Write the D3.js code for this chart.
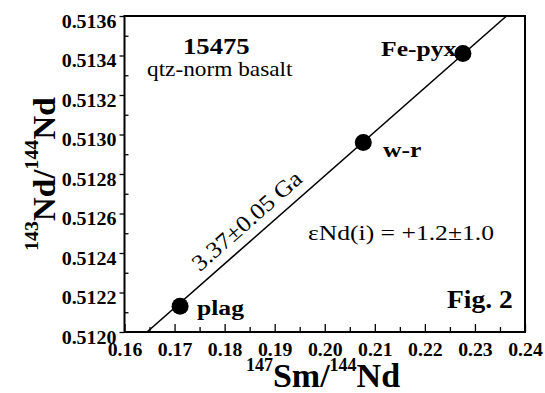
<!DOCTYPE html>
<html>
<head>
<meta charset="utf-8">
<script src="https://cdn.jsdelivr.net/npm/d3@7"></script>
<style>
  body { margin: 0; background: #fff; }
  text { font-family: "Liberation Serif", "Times New Roman", serif; fill: #000; }
</style>
</head>
<body>
<svg id="chart" width="545" height="393"></svg>
<script>
// Data
var minerals = ["plag", "w-r", "Fe-pyx"];
var smNd = [0.1711, 0.2077, 0.2276];
var ndNd = [0.51213, 0.51296, 0.51341];
// isochron end points (where it meets the frame)
var isoX = [0.1645, 0.2363];
var isoY = [0.5120, 0.5136];
var xTicks = [0.16, 0.17, 0.18, 0.19, 0.20, 0.21, 0.22, 0.23, 0.24];
var yTicks = [0.5120, 0.5122, 0.5124, 0.5126, 0.5128, 0.5130, 0.5132, 0.5134, 0.5136];

var svg = d3.select("#chart");

var pLeft = 124.5, pRight = 525, pTop = 16, pBottom = 332;

var x = d3.scaleLinear().domain([0.16, 0.24]).range([pLeft, pRight]);
var y = d3.scaleLinear().domain([0.5120, 0.5136]).range([pBottom, pTop]);

// minor ticks half way between majors
var xMinor = d3.pairs(xTicks).map(p => (p[0] + p[1]) / 2);
var yMinor = d3.pairs(yTicks).map(p => (p[0] + p[1]) / 2);

// x axis (ticks point inward)
svg.append("g")
  .attr("transform", `translate(0,${pBottom})`)
  .call(d3.axisBottom(x).tickValues(xMinor).tickSize(-5).tickFormat(""))
  .call(g => g.select(".domain").remove());

var xAxis = svg.append("g")
  .attr("transform", `translate(0,${pBottom})`)
  .call(d3.axisBottom(x).tickValues(xTicks).tickSizeInner(-8).tickSizeOuter(0).tickFormat(d3.format(".2f")));
xAxis.select(".domain").remove();
xAxis.selectAll("text")
  .attr("y", 11)
  .attr("transform", "scale(1.04,1)")
  .style("font-family", '"Liberation Serif", serif')
  .style("font-size", "19px")
  .style("font-weight", "bold");

// y axis
svg.append("g")
  .attr("transform", `translate(${pLeft},0)`)
  .call(d3.axisLeft(y).tickValues(yMinor).tickSize(-4).tickFormat(""))
  .call(g => g.select(".domain").remove());

var yAxis = svg.append("g")
  .attr("transform", `translate(${pLeft},0)`)
  .call(d3.axisLeft(y).tickValues(yTicks).tickSizeInner(5).tickSizeOuter(0).tickFormat(d3.format(".4f")));
yAxis.select(".domain").remove();
yAxis.selectAll("text")
  .attr("x", 0)
  .attr("dy", "0.6em")
  .attr("transform", "translate(-8,0) scale(1.05,1)")
  .style("font-family", '"Liberation Serif", serif')
  .style("font-size", "19px")
  .style("font-weight", "bold");

svg.selectAll(".tick line").attr("stroke", "#000").attr("stroke-width", 1.3);

// frame
svg.append("rect")
  .attr("x", pLeft).attr("y", pTop)
  .attr("width", pRight - pLeft).attr("height", pBottom - pTop)
  .attr("fill", "none").attr("stroke", "#000").attr("stroke-width", 2);

// isochron
svg.append("line")
  .attr("x1", x(isoX[0])).attr("y1", y(isoY[0]))
  .attr("x2", x(isoX[1])).attr("y2", y(isoY[1]))
  .attr("stroke", "#000").attr("stroke-width", 1.6);

// points
svg.selectAll("circle.pt")
  .data(smNd)
  .enter().append("circle")
  .attr("class", "pt")
  .attr("cx", d => x(d))
  .attr("cy", (d, i) => y(ndNd[i]))
  .attr("r", 8.5)
  .attr("fill", "#000");

// plain text helper
function label(txt, px, py, size, weight, sx) {
  return svg.append("text")
    .attr("transform", `translate(${px},${py}) scale(${sx},1)`)
    .style("font-size", size + "px")
    .style("font-weight", weight)
    .text(txt);
}

// point labels
var labelPos = [[197, 315], [383, 157], [381, 56]];
minerals.forEach((m, i) => label(m, labelPos[i][0], labelPos[i][1], 21, "bold", 1.22));

label("15475", 183, 54, 23, "bold", 1.16);
label("qtz-norm basalt", 147, 76, 21, "normal", 1.11);
label("εNd(i) = +1.2±1.0", 308, 240, 21, "normal", 1.22);
label("Fig. 2", 447, 308, 25, "bold", 1.1);

// age along the isochron
var x0 = x(isoX[0]), y0 = y(isoY[0]), x1 = x(isoX[1]), y1 = y(isoY[1]);
var ang = Math.atan2(y1 - y0, x1 - x0) * 180 / Math.PI;
var t = 0.31;
svg.append("text")
  .attr("transform", `translate(${x0 + t * (x1 - x0)},${y0 + t * (y1 - y0)}) rotate(${ang}) scale(1.1,1)`)
  .attr("y", -10)
  .attr("text-anchor", "middle")
  .style("font-size", "23px")
  .text("3.37±0.05 Ga");

// axis titles
var xt = svg.append("text")
  .attr("x", 323).attr("y", 387)
  .attr("text-anchor", "middle")
  .style("font-weight", "bold");
xt.append("tspan").style("font-size", "18px").attr("dy", -16).text("147");
xt.append("tspan").style("font-size", "34px").attr("dy", 16).text("Sm/");
xt.append("tspan").style("font-size", "18px").attr("dy", -16).text("144");
xt.append("tspan").style("font-size", "34px").attr("dy", 16).text("Nd");

var yt = svg.append("text")
  .attr("transform", "translate(55,174) rotate(-90) scale(1.04,1)")
  .attr("text-anchor", "middle")
  .style("font-weight", "bold");
yt.append("tspan").style("font-size", "19px").attr("dy", -17).text("143");
yt.append("tspan").style("font-size", "32px").attr("dy", 17).text("Nd/");
yt.append("tspan").style("font-size", "19px").attr("dy", -17).text("144");
yt.append("tspan").style("font-size", "32px").attr("dy", 17).text("Nd");
</script>
</body>
</html>
